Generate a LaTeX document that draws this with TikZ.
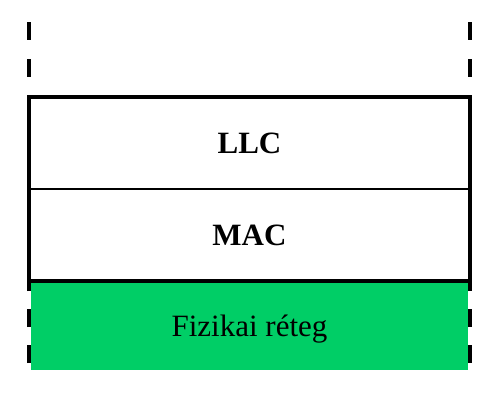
\documentclass[tikz,border=0pt]{standalone}
\usepackage{fontspec}
\setmainfont{Liberation Serif}
\usetikzlibrary{positioning}
\definecolor{phygreen}{HTML}{00CE66}

\begin{document}
\begin{tikzpicture}[x=0.5pt, y=-0.5pt,
    layer/.style={minimum width=220.5pt, minimum height=46pt, inner sep=0pt, outer sep=0pt,
                  text height=10.3pt, text depth=0pt, font=\fontsize{15.5}{18}\selectfont},
    edge/.style={line width=2pt, dash pattern=on 9pt off 9.5pt}]
    \useasboundingbox (0,0) rectangle (500,403);

    % Layers
    \node[layer, font=\fontsize{15.5}{18}\selectfont\bfseries] (llc) at (249.5,143) {LLC};
    \node[layer, font=\fontsize{15.5}{18}\selectfont\bfseries, below=0pt of llc] (mac) {MAC};
    \node[layer, fill=phygreen, minimum width=218.5pt, minimum height=44pt, below=0.5pt of mac] (phy) {Fizikai réteg};

    % Outer box
    \draw[line width=2pt] (llc.north west) rectangle (mac.south east);
    \draw[line width=1pt] (llc.south west) -- (llc.south east);

    % Dashed side lines
    \coordinate (lt) at (29,22);
    \coordinate (rt) at (470,22);
    \coordinate (lb) at (29,363);
    \coordinate (rb) at (470,363);
    \draw[edge] (lt) -- (llc.north west);
    \draw[edge] (rt) -- (llc.north east);
    \draw[edge, dash pattern=on 9pt off 9pt] (lb) -- (mac.south west);
    \draw[edge, dash pattern=on 9pt off 9pt] (rb) -- (mac.south east);
\end{tikzpicture}
\end{document}
